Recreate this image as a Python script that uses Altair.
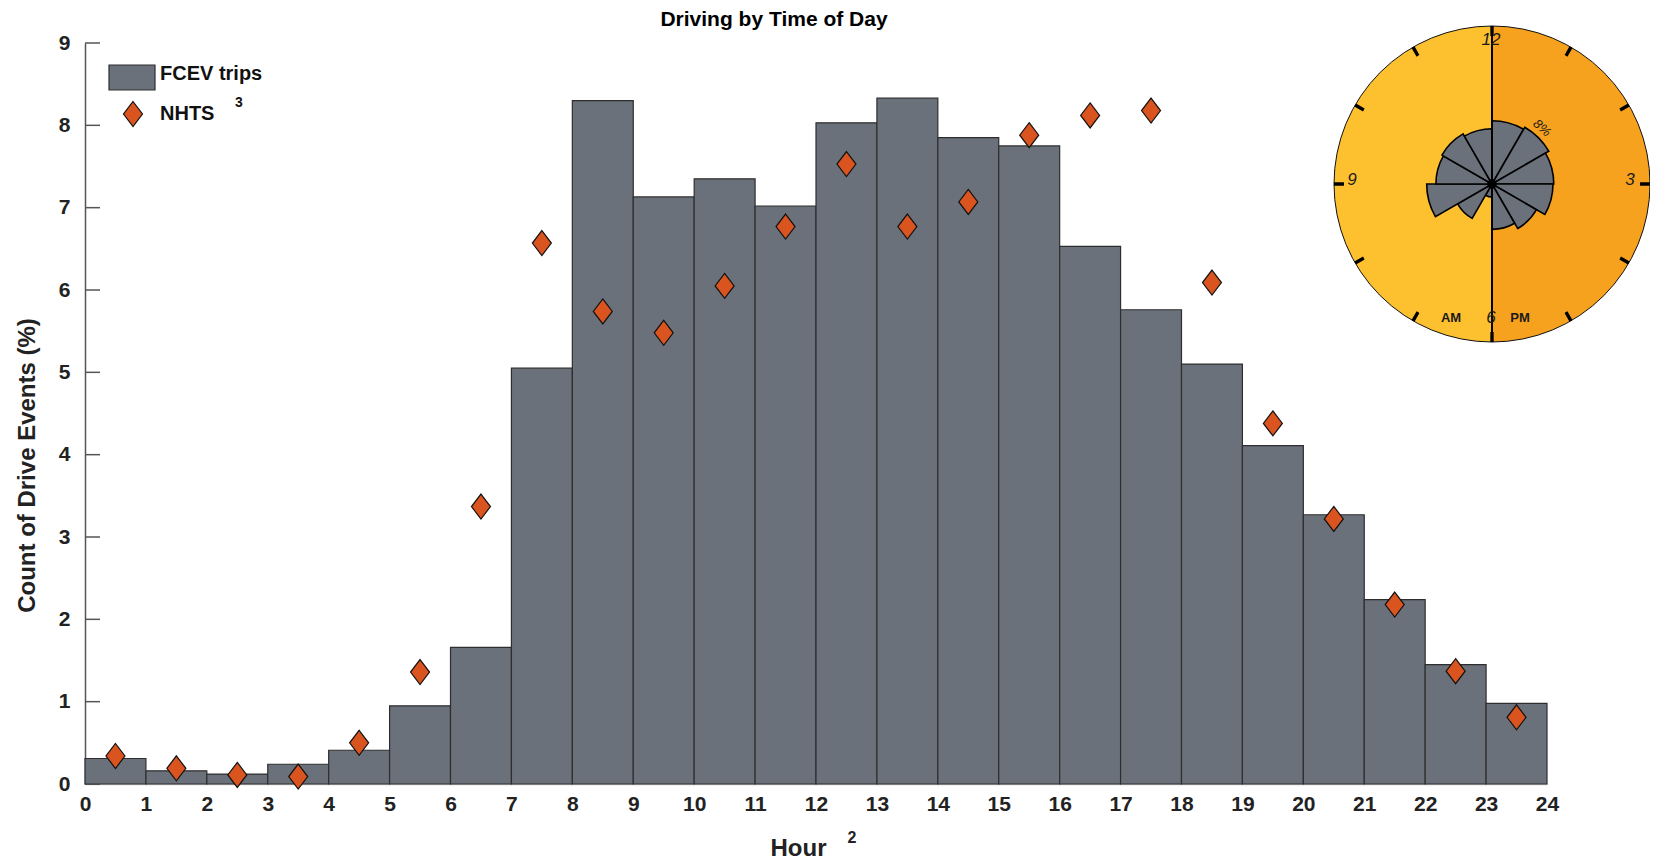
import math
import altair as alt
import pandas as pd

FONT = "Liberation Sans"

# ---------------- data ----------------
hours = list(range(24))
fcev = [0.31, 0.16, 0.12, 0.24, 0.41, 0.95, 1.66, 5.05, 8.30, 7.13, 7.35, 7.02,
        8.03, 8.33, 7.85, 7.75, 6.53, 5.76, 5.10, 4.11, 3.27, 2.24, 1.45, 0.98]
nhts = [0.34, 0.19, 0.11, 0.09, 0.50, 1.36, 3.37, 6.57, 5.74, 5.48, 6.05, 6.77,
        7.53, 6.77, 7.07, 7.88, 8.12, 8.18, 6.09, 4.38, 3.22, 2.18, 1.37, 0.81]
x_ticks = list(range(25))
y_ticks = list(range(10))
clock_hours = list(range(12))
rose_hours = list(range(6, 18))
clock_labels = ["12", "3", "6", "9"]
legend_labels = ["FCEV trips", "NHTS"]
title_text = "Driving by Time of Day"

BAR = "#6a717b"
DIAM = "#d9541e"
AM_COL = "#fdc02e"
PM_COL = "#f7a21e"

W, H = 1462, 741

df = pd.DataFrame({
    "start": hours,
    "end": [h + 1 for h in hours],
    "mid": [h + 0.5 for h in hours],
    "fcev": fcev,
    "nhts": nhts,
})

rose = df[df["start"].isin(rose_hours)].copy()
rose["t0"] = (rose["start"] % 12) * math.pi / 6
rose["t1"] = rose["t0"] + math.pi / 6

tk = pd.DataFrame({"k": clock_hours})
tk["a"] = (tk["k"].where(tk["k"] > 0, 12)) * math.pi / 6
tk["t0"] = tk["a"] - 0.011
tk["t1"] = tk["a"] + 0.011

one = pd.DataFrame({"z": [0]})

CX, CY, R = 1407, 141, 158
DIAMOND = "M0,-1L0.76,0L0,1L-0.76,0Z"

xscale = alt.Scale(domain=[0, 24], nice=False, zero=False)
yscale = alt.Scale(domain=[0, 9], nice=False)

x_axis = alt.Axis(
    values=x_ticks, format="d", title="Hour", titleFont=FONT, titleFontSize=24,
    titleFontWeight="bold", titleColor="#222", titleX=713, titleY=64,
    titleAlign="center", titleBaseline="middle",
    labelFont=FONT, labelFontSize=21, labelFontWeight="bold", labelColor="#222",
    labelPadding=9, ticks=False, tickSize=0, grid=False,
    domainColor="#c8c8c8", domainWidth=1.5, labelFlush=False,
)
y_axis = alt.Axis(
    values=y_ticks, format="d", title="Count of Drive Events (%)", titleFont=FONT,
    titleFontSize=24, titleFontWeight="bold", titleColor="#222", titleAngle=270,
    titleX=-58, titleY=422, titleAlign="center", titleBaseline="middle",
    labelFont=FONT, labelFontSize=21, labelFontWeight="bold", labelColor="#222",
    labelPadding=15, ticks=False, tickSize=0, grid=False,
    domainColor="#555", domainWidth=1.5,
)

ytick_layer = alt.Chart(pd.DataFrame({"t": y_ticks})).mark_rule(
    color="#555", strokeWidth=1.5
).encode(
    y=alt.Y("t:Q", scale=yscale, axis=y_axis),
    x=alt.value(0), x2=alt.value(15),
)

bars = alt.Chart(df).mark_rect(fill=BAR, stroke="#2e2e2e", strokeWidth=1.2).encode(
    x=alt.X("start:Q", scale=xscale, axis=x_axis),
    x2="end:Q",
    y=alt.Y("fcev:Q", scale=yscale),
    y2=alt.datum(0),
)

diamonds = alt.Chart(df).mark_point(
    shape=DIAMOND, size=625, filled=True, fill=DIAM, stroke="#111",
    strokeWidth=1.2, opacity=1,
).encode(
    x=alt.X("mid:Q", scale=xscale),
    y=alt.Y("nhts:Q", scale=yscale),
)

# ---------------- title ----------------
title = alt.Chart(one).mark_text(
    text=title_text, font=FONT, fontSize=21, fontWeight="bold", color="#000",
    align="center", baseline="middle",
).encode(x=alt.value(689), y=alt.value(-23))

# ---------------- legend ----------------
leg_rect = alt.Chart(one).mark_rect(fill=BAR, stroke="#2e2e2e", strokeWidth=1.2).encode(
    x=alt.value(24), x2=alt.value(70), y=alt.value(22), y2=alt.value(47),
)
leg_diam = alt.Chart(one).mark_point(
    shape=DIAMOND, size=625, filled=True, fill=DIAM, stroke="#111",
    strokeWidth=1.2, opacity=1,
).encode(x=alt.value(48), y=alt.value(71))
leg_t1 = alt.Chart(one).mark_text(
    text=legend_labels[0], font=FONT, fontSize=20, fontWeight="bold",
    color="#111", align="left", baseline="middle",
).encode(x=alt.value(75), y=alt.value(31))
leg_t2 = alt.Chart(one).mark_text(
    text=legend_labels[1], font=FONT, fontSize=20, fontWeight="bold",
    color="#111", align="left", baseline="middle",
).encode(x=alt.value(75), y=alt.value(71))
sup3 = alt.Chart(one).mark_text(
    text="3", font=FONT, fontSize=14, fontWeight="bold", color="#111",
    align="center", baseline="middle",
).encode(x=alt.value(154), y=alt.value(60))
sup2 = alt.Chart(one).mark_text(
    text="2", font=FONT, fontSize=16, fontWeight="bold", color="#222",
    align="center", baseline="middle",
).encode(x=alt.value(767), y=alt.value(795))

# ---------------- polar inset ----------------
pm_half = alt.Chart(one).mark_arc(
    theta=0, theta2=math.pi, radius=R, fill=PM_COL, stroke="#111", strokeWidth=1
).encode(x=alt.value(CX), y=alt.value(CY))
am_half = alt.Chart(one).mark_arc(
    theta=math.pi, theta2=2 * math.pi, radius=R, fill=AM_COL, stroke="#111", strokeWidth=1
).encode(x=alt.value(CX), y=alt.value(CY))

wedges = alt.Chart(rose).mark_arc(fill=BAR, stroke="#000", strokeWidth=1.6).encode(
    theta=alt.Theta("t0:Q", scale=None, stack=None),
    theta2="t1:Q",
    radius=alt.Radius("fcev:Q", scale=alt.Scale(type="linear", domain=[0, 20],
                                                 range=[0, 157.4], zero=True)),
    x=alt.value(CX), y=alt.value(CY),
)

ticks = alt.Chart(tk).mark_arc(radius=R, radius2=148, fill="#000").encode(
    theta=alt.Theta("t0:Q", scale=None, stack=None),
    theta2="t1:Q",
    x=alt.value(CX), y=alt.value(CY),
)

vline = alt.Chart(one).mark_rule(color="#000", strokeWidth=2).encode(
    x=alt.value(CX), y=alt.value(CY - R), y2=alt.value(CY + R),
)
center_dot = alt.Chart(one).mark_point(
    shape="circle", size=90, filled=True, color="#000", opacity=1
).encode(x=alt.value(CX), y=alt.value(CY))

def ctext(txt, dx, dy, size=16, style="italic", weight="normal", angle=0):
    return alt.Chart(one).mark_text(
        text=txt, font=FONT, fontSize=size, fontStyle=style, fontWeight=weight,
        color="#1a1a1a", align="center", baseline="middle", angle=angle,
    ).encode(x=alt.value(CX + dx), y=alt.value(CY + dy))

lbl12 = ctext(clock_labels[0], -1, -144, size=17)
lbl3 = ctext(clock_labels[1], 138, -4, size=17)
lbl6 = ctext(clock_labels[2], -1, 134, size=17)
lbl9 = ctext(clock_labels[3], -140, -4, size=17)
lbl_am = ctext("AM", -41, 134, size=13, style="normal", weight="bold")
lbl_pm = ctext("PM", 28, 134, size=13, style="normal", weight="bold")
lbl_8 = ctext("8%", 50, -56, size=13, angle=42)

chart = alt.layer(
    ytick_layer, bars, diamonds, title,
    leg_rect, leg_diam, leg_t1, leg_t2, sup3, sup2,
    am_half, pm_half, wedges, vline, ticks, center_dot,
    lbl12, lbl3, lbl6, lbl9, lbl_am, lbl_pm, lbl_8,
).properties(
    width=W, height=H,
    background="white",
    autosize=alt.AutoSizeParams(type="none"),
    padding={"left": 77, "top": 35, "right": 103, "bottom": 78},
).configure_view(stroke=None).configure_axis(grid=False)

chart.save("out.html", embed_options={"renderer": "svg", "actions": False})
